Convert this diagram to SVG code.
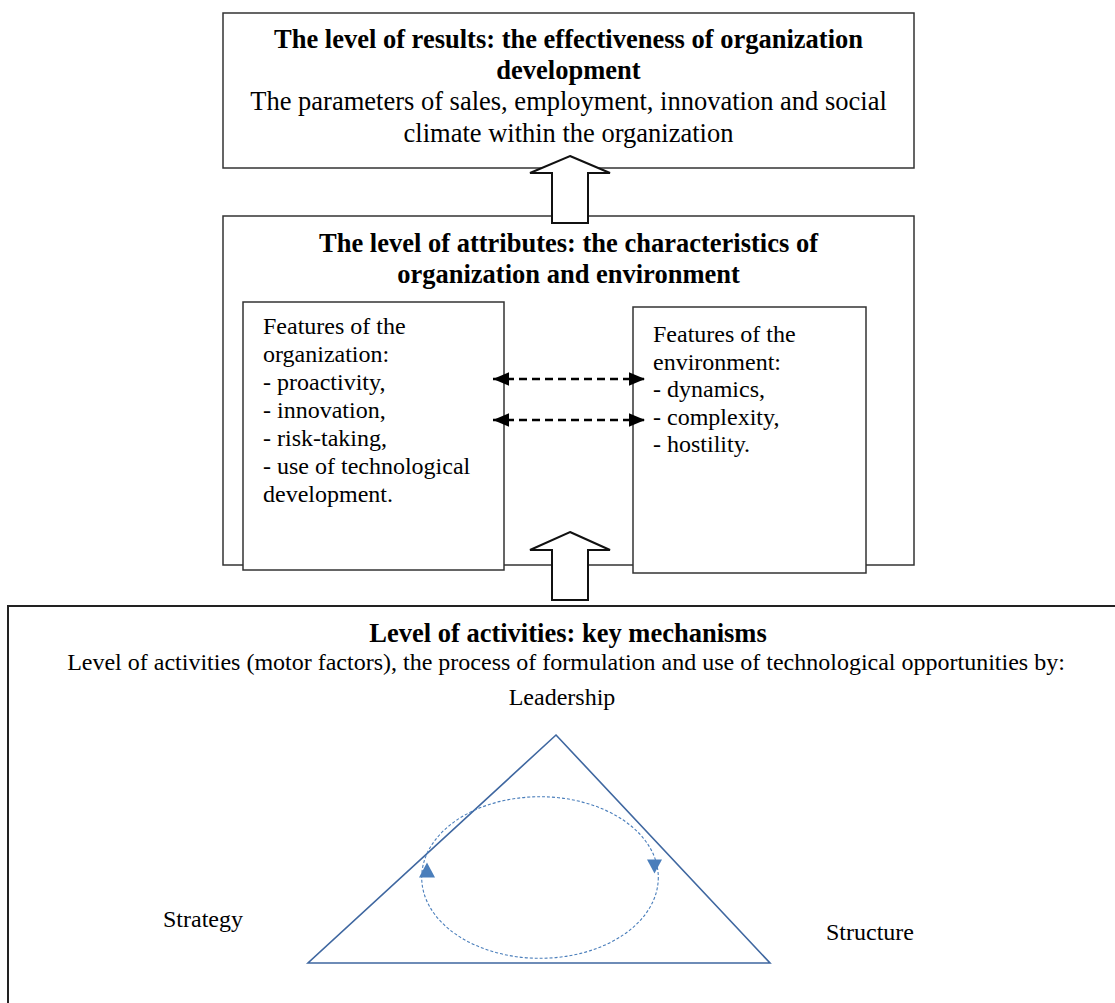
<svg xmlns="http://www.w3.org/2000/svg" width="1115" height="1003" viewBox="0 0 1115 1003">
<defs>
<style>
text{font-family:"Liberation Serif","Times New Roman",serif;fill:#000}
.b{font-weight:bold;font-size:26.5px}
.r{font-size:26.5px}
.s{font-size:24px}
.c{text-anchor:middle}
.box{fill:#fff;stroke:#333;stroke-width:1.5}
.big{fill:#fff;stroke:#222;stroke-width:2}
.up{fill:#fff;stroke:#111;stroke-width:2}
.dash{fill:none;stroke:#000;stroke-width:2.5;stroke-dasharray:8,5}
.tri{fill:none;stroke:#3F67A0;stroke-width:1.6}
.cyc{fill:none;stroke:#4A7EBB;stroke-width:1.1;stroke-dasharray:3,2}
.head{fill:#4A7EBB}
</style>
<marker id="ah" markerUnits="userSpaceOnUse" markerWidth="16" markerHeight="14" viewBox="0 0 14 12" refX="14" refY="6" orient="auto-start-reverse">
<path d="M0,0 L14,6 L0,12 z" fill="#000"/>
</marker>
</defs>

<g id="results">
<rect class="box" x="223" y="13" width="691" height="155"/>
<text class="b c" x="568.5" y="48">The level of results: the effectiveness of organization</text>
<text class="b c" x="568.5" y="79">development</text>
<text class="r c" x="568.5" y="110">The parameters of sales, employment, innovation and social</text>
<text class="r c" x="568.5" y="142">climate within the organization</text>
</g>

<g id="attributes">
<rect class="box" x="223" y="216" width="691" height="349"/>
<text class="b c" x="568.5" y="252">The level of attributes: the characteristics of</text>
<text class="b c" x="568.5" y="283">organization and environment</text>
</g>

<g id="organization">
<rect class="box" x="243" y="302" width="261" height="268"/>
<text class="s" x="263" y="334">Features of the</text>
<text class="s" x="263" y="362">organization:</text>
<text class="s" x="263" y="390">- proactivity,</text>
<text class="s" x="263" y="418">- innovation,</text>
<text class="s" x="263" y="446">- risk-taking,</text>
<text class="s" x="263" y="474">- use of technological</text>
<text class="s" x="263" y="502">development.</text>
</g>

<g id="environment">
<rect class="box" x="633" y="307" width="233" height="266"/>
<text class="s" x="653" y="342">Features of the</text>
<text class="s" x="653" y="369.5">environment:</text>
<text class="s" x="653" y="397">- dynamics,</text>
<text class="s" x="653" y="424.5">- complexity,</text>
<text class="s" x="653" y="452">- hostility.</text>
</g>

<g id="activities">
<rect class="big" x="8" y="606" width="1125" height="420"/>
<text class="b c" x="568" y="642">Level of activities: key mechanisms</text>
<text class="s c" x="566" y="670">Level of activities (motor factors), the process of formulation and use of technological opportunities by:</text>
<text class="s c" x="562" y="705">Leadership</text>
<text class="s" x="163" y="927">Strategy</text>
<text class="s" x="826" y="940">Structure</text>
<polygon class="tri" points="556,735 770,963 308,963"/>
<ellipse class="cyc" cx="540" cy="877.5" rx="118.3" ry="80.8"/>
<polygon class="head" points="427,862.5 435,877.5 419,877.5"/>
<polygon class="head" points="647,859.5 662,859.5 654.5,873.5"/>
</g>

<g id="connectors">
<path class="up" d="M570,156 L610,173 L588,173 L588,223 L552,223 L552,173 L530,173 Z"/>
<path class="up" d="M570,532 L610,550 L588,550 L588,600 L552,600 L552,550 L530,550 Z"/>
<line class="dash" x1="493" y1="379" x2="645" y2="379" marker-start="url(#ah)" marker-end="url(#ah)"/>
<line class="dash" x1="493" y1="420" x2="645" y2="420" marker-start="url(#ah)" marker-end="url(#ah)"/>
</g>
</svg>
